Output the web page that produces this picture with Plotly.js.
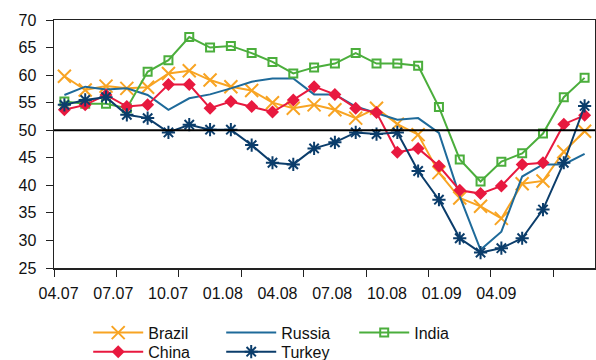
<!DOCTYPE html>
<html>
<head>
<meta charset="utf-8">
<script src="https://cdn.plot.ly/plotly-3.0.1.min.js"></script>
<style>html,body{margin:0;padding:0;background:#fff;}#chart{width:596px;height:360px;}</style>
</head>
<body>
<div id="chart"></div>
<script>
// Months Apr 2007 .. May 2009 (category index 0..25)
const months = ["04.07","05.07","06.07","07.07","08.07","09.07","10.07","11.07","12.07",
  "01.08","02.08","03.08","04.08","05.08","06.08","07.08","08.08","09.08","10.08","11.08","12.08",
  "01.09","02.09","03.09","04.09","05.09"];
const tickLabels = ["04.07","07.07","10.07","01.08","04.08","07.08","10.08","01.09","04.09"];

const brazil = [59.8,57.3,58.0,57.6,57.8,60.3,60.8,59.1,57.9,57.2,55.0,54.0,54.6,53.7,52.2,54.0,51.1,49.2,42.3,37.7,36.2,34.0,40.3,40.8,46.1,49.8];
const russia = [56.4,57.9,57.4,57.6,56.4,53.7,55.8,56.5,57.6,58.8,59.4,59.4,56.5,56.5,54.3,53.1,51.9,52.2,49.5,38.0,28.3,31.6,41.6,43.8,43.8,45.7];
const india  = [55.2,54.8,54.8,54.0,60.6,62.7,66.9,65.0,65.3,64.0,62.4,60.3,61.4,62.1,64.0,62.1,62.1,61.7,54.2,44.7,40.7,44.3,45.8,49.4,56.0,59.5];
const china  = [53.7,54.6,56.4,54.3,54.6,58.3,58.3,54.0,55.2,54.3,53.3,55.5,57.9,56.5,54.0,53.2,46.0,46.7,43.5,39.1,38.5,39.9,43.8,44.1,51.1,52.7];
const turkey = [54.6,55.5,56.0,52.8,52.2,49.6,51.0,50.1,50.1,47.3,44.1,43.8,46.7,47.8,49.6,49.3,49.6,42.6,37.4,30.4,27.8,28.6,30.4,35.6,44.1,54.4];
const threshold = 50;

const idx = months.map((m, i) => i);
const n = months.length;
// tick marks every 3 categories, between categories
const tickMarkVals = [];
for (let v = -0.5; v <= n - 2; v += 3) tickMarkVals.push(v);
// label positions (spread evenly as in the original)
const labelVals = tickLabels.map((t, i) => -0.28 + i * 2.63);

const F = "Liberation Sans, Arial, sans-serif";
function tr(name, y, color, marker, legend) {
  const t = {type: "scatter", mode: marker ? "lines+markers" : "lines", name: name, x: idx, y: y,
    line: {color: color, width: 2}, xaxis: "x", yaxis: "y", legend: legend};
  if (marker) t.marker = marker;
  return t;
}
const data = [
  tr("Brazil", brazil, "#F8A423", {symbol: "x-thin", size: 13, color: "#F8A423", line: {color: "#F8A423", width: 2}}, "legend"),
  tr("Russia", russia, "#1E6A9A", null, "legend"),
  tr("India", india, "#4BAE3C", {symbol: "square-open", size: 8, color: "#4BAE3C", line: {color: "#4BAE3C", width: 2}}, "legend"),
  tr("China", china, "#E8193F", {symbol: "diamond", size: 10, color: "#E8193F", line: {width: 0}}, "legend2"),
  tr("Turkey", turkey, "#0B3D6B", {symbol: "asterisk", size: 11, color: "#0B3D6B", line: {color: "#0B3D6B", width: 2}}, "legend2"),
  {type: "scatter", mode: "lines", x: [], y: [], xaxis: "x2", yaxis: "y", showlegend: false, hoverinfo: "skip"}
];

const legendBase = {orientation: "h", xref: "container", yref: "container", x: 0.148, xanchor: "left", yanchor: "top",
    itemwidth: 50, entrywidth: 68,
    font: {size: 16, family: F, color: "#111"}, bgcolor: "rgba(0,0,0,0)", traceorder: "normal"};

const layout = {
  width: 596, height: 360,
  margin: {l: 54, r: 1, t: 20, b: 92},
  paper_bgcolor: "#fff", plot_bgcolor: "#fff",
  font: {family: F, size: 16, color: "#111"},
  showlegend: true,
  xaxis: {range: [-0.5, n - 0.5], tickvals: tickMarkVals, showticklabels: false, ticks: "outside", ticklen: 7,
    tickcolor: "#222", showgrid: false, zeroline: false, showline: true, linecolor: "#222", linewidth: 1.5, mirror: true},
  xaxis2: {overlaying: "x", anchor: "y", side: "bottom", range: [-0.5, n - 0.5], tickvals: labelVals, ticktext: tickLabels,
    ticks: "", showgrid: false, zeroline: false, showline: false, ticklabelstandoff: 14, tickfont: {size: 16, family: F, color: "#111"}},
  yaxis: {range: [25, 70], dtick: 5, ticks: "outside", ticklen: 7, tickcolor: "#222", showgrid: false, zeroline: false,
    showline: true, linecolor: "#222", linewidth: 1.5, mirror: true, ticklabelstandoff: 6, tickfont: {size: 16, family: F, color: "#111"}},
  shapes: [{type: "line", xref: "paper", x0: 0, x1: 1, yref: "y", y0: threshold, y1: threshold, line: {color: "#000", width: 2}, layer: "above"}],
  legend: Object.assign({}, legendBase, {y: 0.123}),
  legend2: Object.assign({}, legendBase, {y: 0.070})
};
Plotly.newPlot("chart", data, layout, {staticPlot: true, displayModeBar: false});
</script>
</body>
</html>
